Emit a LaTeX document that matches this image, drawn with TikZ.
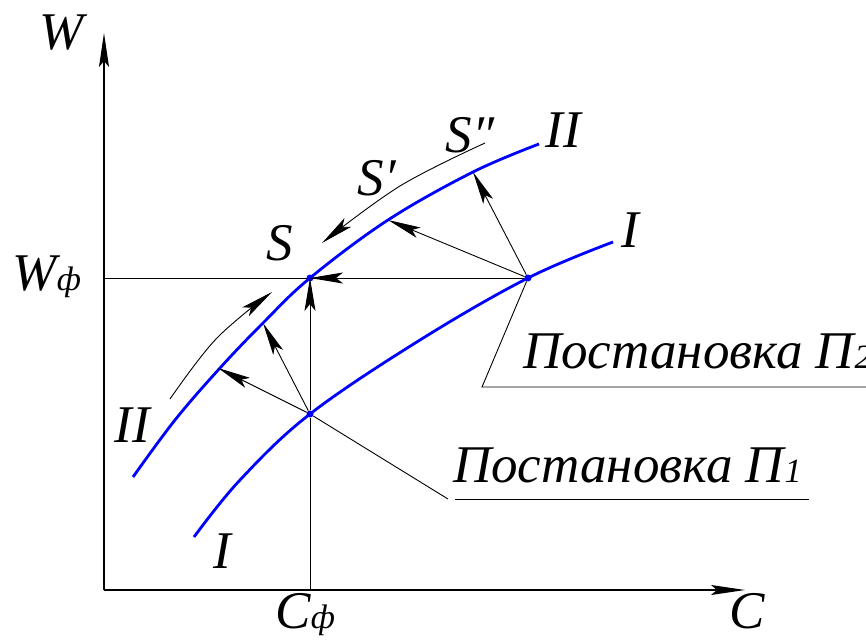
\documentclass[tikz,border=0pt]{standalone}
\usepackage{fontspec}
\setmainfont{Liberation Serif}
\newfontfamily\lserif{Liberation Serif}
\usetikzlibrary{arrows.meta}
\begin{document}
\begin{tikzpicture}[x=1pt,y=-1pt,
  lbl/.style={font=\lserif\fontsize{53}{60}\selectfont\itshape, inner sep=0pt},
  subs/.style={font=\lserif\fontsize{34}{40}\selectfont\itshape, inner sep=0pt},
  axis/.style={line width=1.3pt, -{Stealth[length=34pt,width=10pt,inset=6pt]}},
  thin/.style={line width=0.9pt},
  vec/.style={line width=0.9pt, -{Stealth[length=33pt,width=11pt,inset=7pt]}},
  curve/.style={blue, line width=2.8pt},
  dot/.style={circle, fill=blue, inner sep=0pt, minimum size=7pt}]
\useasboundingbox (0,0) rectangle (866,639);
% axes
\coordinate (O) at (104,590);
\coordinate (Wtop) at (104,33);
\coordinate (Cend) at (745,590);
\coordinate (Wf) at (104,278);
\coordinate (Cf) at (310,590);
\draw[axis] (O) -- (Wtop);
\draw[axis] (O) -- (Cend);
% points
\node[dot] (S) at (310,278) {};
\node[dot] (P2) at (528,278) {};
\node[dot] (P1) at (310,414) {};
% grid lines
\draw[thin] (Wf) -- (P2);
\draw[thin] (Cf) -- (P1);
% curves
\draw[curve] plot[smooth, tension=0.6] coordinates {(133,477) (175,420) (220,368) (263,323) (310,278) (388,220) (473,172) (539,144)};
\draw[curve] plot[smooth, tension=0.6] coordinates {(194,537) (240,480) (310,414) (420,340) (528,278) (613,242)};
% vectors
\coordinate (A1) at (218,368);
\coordinate (A2) at (263,323);
\coordinate (B1) at (388,220);
\coordinate (B2) at (473,172);
\draw[vec] (P1) -- (A1);
\draw[vec] (P1) -- (A2);
\draw[vec] (P1) -- (S.center);
\draw[vec] (P2) -- (S.center);
\draw[vec] (P2) -- (B1);
\draw[vec] (P2) -- (B2);
% thin arcs
\draw[vec] plot[smooth, tension=0.6] coordinates {(485,143) (400,186) (322,243)};
\draw[vec] plot[smooth, tension=0.6] coordinates {(170,399) (216,339) (272,292)};
% leaders
\coordinate (L1a) at (448,499);
\coordinate (L1b) at (455,499);
\coordinate (L1c) at (809,499);
\coordinate (L2a) at (482,387);
\coordinate (L2b) at (880,387);
\draw[thin] (P1) -- (L1a);
\draw[thin] (L1b) -- (L1c);
\draw[thin] (P2) -- (L2a) -- (L2b);
% labels
\node[lbl] (tW) at (62,33) {W};
\node[lbl, anchor=base west] (tWf) at (12,290) {W};
\node[subs, anchor=base west] (tWfs) at (tWf.base east) {ф};
\node[lbl, anchor=base west] (tCf) at (275,628) {C};
\node[subs, anchor=base west] (tCfs) at (tCf.base east) {ф};
\node[lbl] (tC) at (747,611) {C};
\node[lbl] (tS) at (280,243) {S};
\node[lbl] (tS1) at (377,178) {S\symbol{"2032}};
\node[lbl] (tS2) at (470,135) {S\symbol{"2033}};
\node[lbl] (tII) at (563,130) {II};
\node[lbl] (tI) at (630,230) {I};
\node[lbl] (tIIb) at (132,425) {II};
\node[lbl] (tIb) at (222,551) {I};
\node[lbl, anchor=base west] (tP1) at (453,482) {Постановка П};
\node[subs, anchor=base west] (tP1s) at (tP1.base east) {1};
\node[lbl, anchor=base west] (tP2) at (523,368) {Постановка П};
\node[subs, anchor=base west] (tP2s) at (tP2.base east) {2};
\end{tikzpicture}
\end{document}
